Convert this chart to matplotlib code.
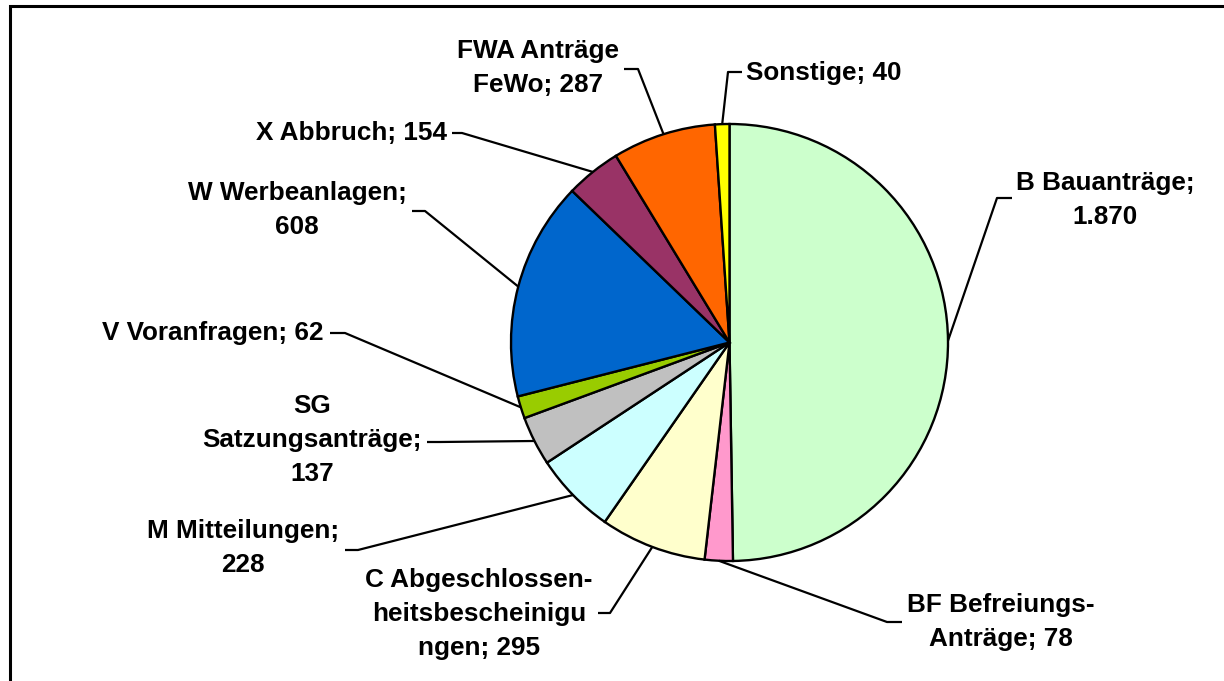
import matplotlib
matplotlib.use("Agg")
import matplotlib.pyplot as plt
from matplotlib.patches import Rectangle
import numpy as np

# Data (clockwise from 12 o'clock)
categories = ["B", "BF", "C", "M", "SG", "V", "W", "X", "FWA", "Sonstige"]
values = [1870, 78, 295, 228, 137, 62, 608, 154, 287, 40]
label_fmt = [
    "B Bauanträge;\n{}",
    "BF Befreiungs-\nAnträge; {}",
    "C Abgeschlossen-\nheitsbescheinigu\nngen; {}",
    "M Mitteilungen;\n{}",
    "SG\nSatzungsanträge;\n{}",
    "V Voranfragen; {}",
    "W Werbeanlagen;\n{}",
    "X Abbruch; {}",
    "FWA Anträge\nFeWo; {}",
    "Sonstige; {}",
]
colors = ["#CCFFCC", "#FF99CC", "#FFFFCC", "#CCFFFF", "#C0C0C0",
          "#99CC00", "#0066CC", "#993366", "#FF6600", "#FFFF00"]

W, H = 1224, 681

# label layout in pixel coords (top-left origin): text centre, stub outer x, stub inner x, stub y
label_pos = {
    "B":        (1105, 200, 1012, 997, 198),
    "BF":       (1001, 622, 902, 887, 622),
    "C":        (479, 614, 598, 610, 613),
    "M":        (243, 548, 345, 358, 550),
    "SG":       (312, 440, 427, 440, 442),
    "V":        (213, 333, 330, 345, 333),
    "W":        (297, 210, 412, 425, 211),
    "X":        (351, 133, 452, 462, 133),
    "FWA":      (538, 68, 624, 638, 69),
    "Sonstige": (824, 73, 742, 728, 72),
}


def fy(y):
    # pixel row -> data y
    return H - y


def fmt_num(v):
    return f"{v:,}".replace(",", ".")


fig = plt.figure(figsize=(W / 100, H / 100), dpi=100)
ax = fig.add_axes([0, 0, 1, 1])

cx, cy, r = 729.5, fy(342.5), 218.5
wedges, _ = ax.pie(values, colors=colors, startangle=90, counterclock=False,
                   center=(cx, cy), radius=r,
                   wedgeprops=dict(edgecolor="black", linewidth=1.7))

for cat, fmt, v, w in zip(categories, label_fmt, values, wedges):
    tx, ty, sx_out, sx_in, sy = label_pos[cat]
    mid = np.deg2rad((w.theta1 + w.theta2) / 2)
    ex, ey = cx + r * np.cos(mid), cy + r * np.sin(mid)
    ax.plot([ex, sx_in, sx_out], [ey, fy(sy), fy(sy)], color="black",
            linewidth=1.6, solid_capstyle="butt", zorder=3)
    ax.text(tx, fy(ty), fmt.format(fmt_num(v)), ha="center", va="center",
            fontsize=18.8, fontweight="bold", family="Liberation Sans",
            linespacing=1.52, zorder=4)

# frame around the chart area (cut off at right and bottom)
ax.add_patch(Rectangle((9.5, fy(H + 20)), W + 20, H + 20 - 5.5, fill=False,
                       edgecolor="black", linewidth=2.2, zorder=5))

ax.set_xlim(0, W)
ax.set_ylim(0, H)
ax.set_aspect("auto")
ax.axis("off")

fig.savefig("out.png", dpi=100)
